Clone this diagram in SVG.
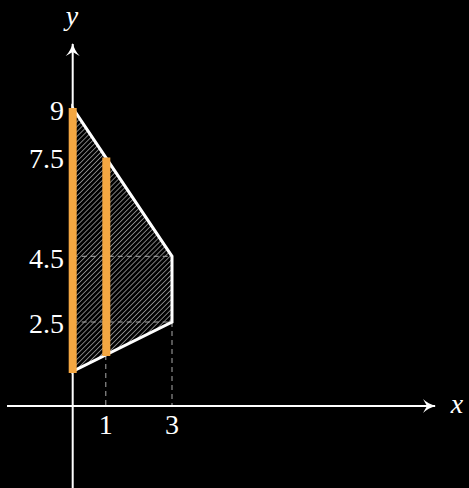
<svg xmlns="http://www.w3.org/2000/svg" width="469" height="488" viewBox="0 0 469 488">
<style>
.lbl{font-family:"Liberation Serif","DejaVu Serif",serif;font-size:28px;fill:#fff}
.it{font-style:italic}
.axis{stroke:#fff;stroke-width:2;fill:none}
.dash{stroke:#aaa;stroke-width:1;stroke-dasharray:5 4;fill:none}
.bar{stroke:#F4A742;stroke-width:8;fill:none}
</style>
<defs>
<pattern id="hatch" patternUnits="userSpaceOnUse" width="3.5" height="3.5" patternTransform="rotate(45)">
<line x1="0" y1="0" x2="0" y2="3.5" stroke="#e0e0e0" stroke-width="1.1"/>
</pattern>
<marker id="arr" markerWidth="16" markerHeight="16" refX="12" refY="8" orient="auto" markerUnits="userSpaceOnUse">
<path d="M0,1 Q5,6 13,8 Q5,10 0,15 L4,8 Z" fill="#fff"/>
</marker>
</defs>
<rect width="469" height="488" fill="#000"/>
<g id="region">
<polygon points="72.7,108.2 172,256.3 172,322 72.7,371.4" fill="url(#hatch)"/>
</g>
<g id="guides">
<line class="dash" x1="72.7" y1="256.3" x2="172" y2="256.3"/>
<line class="dash" x1="72.7" y1="322" x2="172" y2="322"/>
<line class="dash" x1="105.8" y1="355" x2="105.8" y2="406"/>
<line class="dash" x1="172" y1="322" x2="172" y2="406"/>
</g>
<g id="axes">
<line class="axis" x1="7" y1="406" x2="435" y2="406" marker-end="url(#arr)"/>
<line class="axis" x1="72.7" y1="488" x2="72.7" y2="44" marker-end="url(#arr)"/>
</g>
<g id="outline">
<polygon points="72.7,108.2 172,256.3 172,322 72.7,371.4" fill="none" stroke="#fff" stroke-width="3" stroke-linejoin="miter"/>
</g>
<g id="bars">
<line class="bar" x1="72.7" y1="108" x2="72.7" y2="373"/>
<line class="bar" x1="106.3" y1="157.6" x2="106.3" y2="356"/>
</g>
<g id="labels">
<text class="lbl it" x="72" y="25" text-anchor="middle">y</text>
<text class="lbl it" x="457" y="413" text-anchor="middle">x</text>
<text class="lbl" x="64" y="120" text-anchor="end">9</text>
<text class="lbl" x="64" y="168" text-anchor="end">7.5</text>
<text class="lbl" x="64" y="268" text-anchor="end">4.5</text>
<text class="lbl" x="64" y="333" text-anchor="end">2.5</text>
<text class="lbl" x="105.8" y="434" text-anchor="middle">1</text>
<text class="lbl" x="172" y="434" text-anchor="middle">3</text>
</g>
</svg>
